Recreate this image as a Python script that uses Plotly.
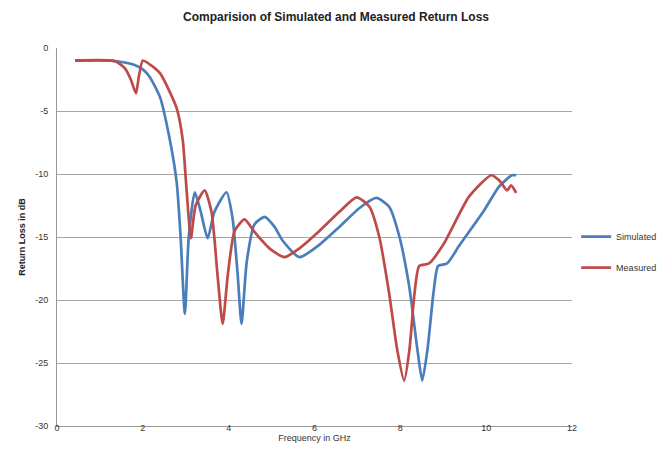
import plotly.graph_objects as go

# Simulated return loss (S11) vs frequency
sim_freq = [0.42, 1.23, 1.58, 1.81, 2.0, 2.16, 2.40, 2.63, 2.79, 2.88, 2.98, 3.07,
            3.21, 3.35, 3.51, 3.67, 3.95, 4.09, 4.21, 4.30, 4.42, 4.60, 4.84, 5.07,
            5.26, 5.65, 6.12, 6.58, 7.05, 7.44, 7.74, 7.98, 8.21, 8.40, 8.51, 8.63,
            8.77, 8.88, 9.09, 9.37, 9.95, 10.30, 10.60, 10.70]
sim_db = [-1.0, -1.0, -1.15, -1.35, -1.7, -2.3, -3.9, -7.3, -10.7, -15.0, -21.1, -15.0,
          -11.45, -13.0, -15.1, -13.0, -11.45, -13.5, -18.0, -21.9, -17.0, -14.0, -13.4, -14.2,
          -15.3, -16.6, -15.6, -14.2, -12.7, -11.9, -12.6, -15.0, -19.0, -24.0, -26.4, -24.0,
          -19.5, -17.3, -17.1, -15.7, -12.9, -11.0, -10.1, -10.1]

# Measured return loss (S11) vs frequency
meas_freq = [0.42, 1.35, 1.58, 1.72, 1.84, 1.91, 2.0, 2.16, 2.40, 2.63, 2.79, 2.93,
             3.02, 3.12, 3.23, 3.44, 3.60, 3.74, 3.86, 3.98, 4.14, 4.37, 4.60, 4.95,
             5.30, 5.65, 6.12, 6.58, 6.98, 7.28, 7.51, 7.74, 7.93, 8.09, 8.21, 8.33,
             8.44, 8.67, 9.02, 9.60, 10.12, 10.30, 10.49, 10.58, 10.70]
meas_db = [-1.0, -1.05, -1.6, -2.5, -3.6, -2.2, -1.0, -1.3, -2.0, -3.5, -4.8, -7.3,
           -11.3, -15.1, -12.5, -11.3, -13.0, -18.0, -21.9, -18.0, -14.5, -13.6, -14.6, -15.9,
           -16.6, -15.9, -14.5, -13.0, -11.85, -12.6, -15.0, -19.5, -24.0, -26.4, -24.0, -19.5,
           -17.3, -17.1, -15.5, -11.8, -10.1, -10.5, -11.3, -10.9, -11.5]

x_ticks = [0, 2, 4, 6, 8, 10, 12]
y_ticks = [0, -5, -10, -15, -20, -25, -30]

FONT = "Liberation Sans Narrow, Liberation Sans, Arial, sans-serif"

fig = go.Figure()
fig.add_trace(go.Scatter(
    x=sim_freq, y=sim_db, mode="lines", name="Simulated",
    line=dict(color="#4a7ebb", width=2.7, shape="spline", smoothing=0.6),
    legendgroup="sim",
))
fig.add_trace(go.Scatter(
    x=meas_freq, y=meas_db, mode="lines", name="Measured",
    line=dict(color="#be4b48", width=2.7, shape="spline", smoothing=0.6),
    legendgroup="meas",
))

fig.update_layout(
    width=672, height=452,
    margin=dict(l=57, r=100, t=48, b=26, autoexpand=False),
    paper_bgcolor="white", plot_bgcolor="white",
    font=dict(family=FONT, size=9, color="#333333"),
    title=dict(
        text="<b>Comparision of Simulated and Measured Return Loss</b>",
        x=0.5, xanchor="center", xref="container", y=0.962, yanchor="middle",
        font=dict(family=FONT, size=12, color="#222222"),
    ),
    legend=dict(
        x=1.008, xanchor="left", y=0.46, yanchor="middle",
        traceorder="grouped", tracegroupgap=12,
        font=dict(family=FONT, size=9, color="#333333"),
        itemwidth=30,
    ),
    xaxis=dict(
        range=[0, 12], tickvals=x_ticks, ticktext=[str(v) for v in x_ticks],
        showgrid=False, zeroline=False,
        showline=True, linecolor="#999999", linewidth=1,
        ticks="", ticklabelstandoff=-7,
        title=dict(text="Frequency in GHz", standoff=2,
                   font=dict(family=FONT, size=9, color="#333333")),
    ),
    yaxis=dict(
        range=[-30, 0], tickvals=y_ticks, ticktext=[str(v) for v in y_ticks],
        showgrid=True, gridcolor="#a6a6a6", gridwidth=1, zeroline=False,
        showline=True, linecolor="#999999", linewidth=1,
        ticks="", ticklabelstandoff=6,
        title=dict(text="<b>Return Loss in dB</b>", standoff=8,
                   font=dict(family=FONT, size=9, color="#222222")),
    ),
)

fig.write_html("out.html")
